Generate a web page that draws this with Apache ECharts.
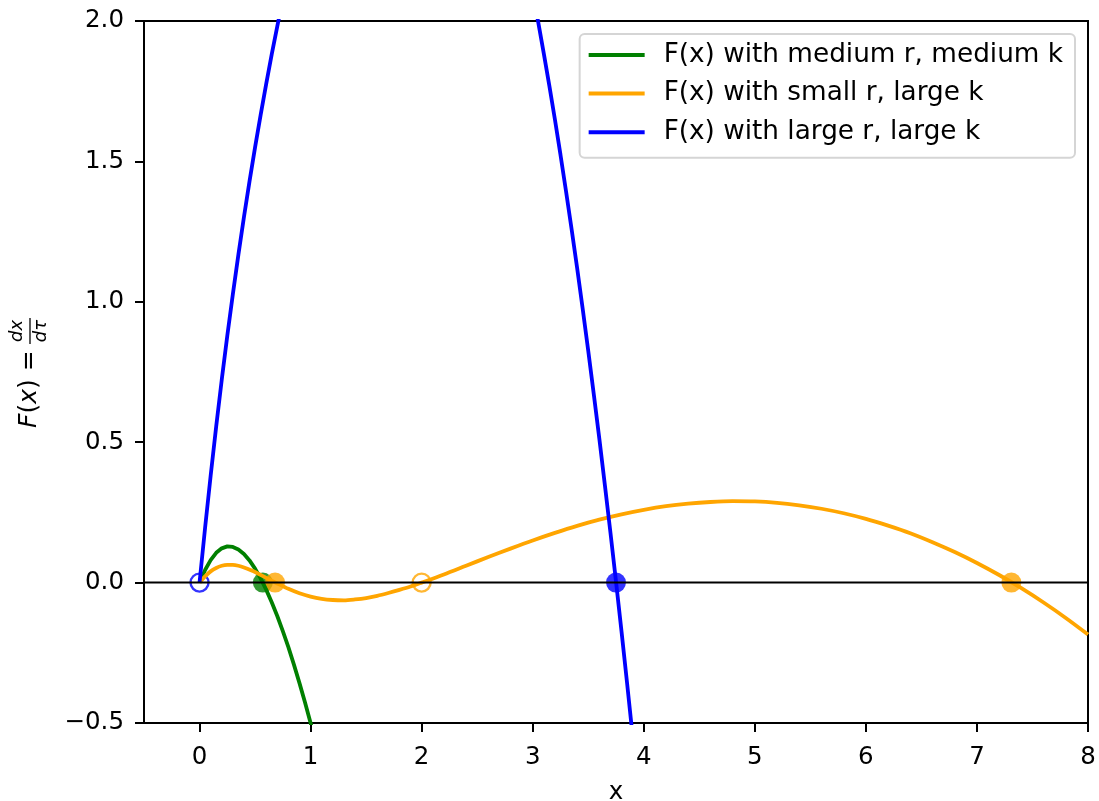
<!DOCTYPE html>
<html>
<head>
<meta charset="utf-8">
<script src="https://cdn.jsdelivr.net/npm/echarts@6/dist/echarts.min.js"></script>
<style>
  html, body { margin: 0; padding: 0; background: #fff; }
  #chart { width: 1099px; height: 801px; }
</style>
</head>
<body>
<div id="chart"></div>
<script>
// F(x) for the three parameter sets
const greenX = [0, 0.05, 0.1, 0.15, 0.2, 0.25, 0.3, 0.35, 0.4, 0.45, 0.5, 0.55, 0.6, 0.65, 0.7, 0.75, 0.8, 0.85, 0.9, 0.95, 1.0, 1.05];
const greenY = [0, 0.045, 0.080, 0.106, 0.122, 0.129, 0.127, 0.118, 0.102, 0.079, 0.050, 0.015, -0.025, -0.070, -0.119, -0.173, -0.230, -0.292, -0.358, -0.427, -0.500, -0.577];

const orangeX = [0, 0.05, 0.1, 0.15, 0.2, 0.25, 0.3, 0.35, 0.4, 0.5, 0.6, 0.7, 0.8, 0.9, 1.0, 1.1, 1.2, 1.3, 1.4, 1.5, 1.6, 1.7, 1.8, 1.9, 2.0,
  2.2, 2.4, 2.6, 2.8, 3.0, 3.2, 3.4, 3.6, 3.8, 4.0, 4.2, 4.4, 4.6, 4.8, 5.0, 5.2, 5.4, 5.6, 5.8, 6.0, 6.2, 6.4, 6.6, 6.8, 7.0, 7.2, 7.4, 7.6, 7.8, 8.0];
const orangeY = [0, 0.022, 0.040, 0.052, 0.060, 0.063, 0.063, 0.060, 0.054, 0.038, 0.017, -0.003, -0.022, -0.038, -0.050, -0.058, -0.062, -0.063, -0.060, -0.055, -0.047, -0.037, -0.026, -0.014, 0,
  0.029, 0.060, 0.091, 0.121, 0.150, 0.177, 0.202, 0.224, 0.243, 0.259, 0.272, 0.281, 0.287, 0.290, 0.289, 0.284, 0.275, 0.263, 0.247, 0.227, 0.203, 0.176, 0.144, 0.109, 0.070, 0.027, -0.020, -0.071, -0.126, -0.185];

const blueX = [0, 0.05, 0.1, 0.15, 0.2, 0.25, 0.3, 0.35, 0.4, 0.45, 0.5, 0.55, 0.6, 0.65, 0.7, 0.75, 0.8, 1.0, 1.5, 2.0, 2.5,
  3.0, 3.05, 3.1, 3.15, 3.2, 3.25, 3.3, 3.35, 3.4, 3.45, 3.5, 3.55, 3.6, 3.65, 3.7, 3.75, 3.8, 3.85, 3.9, 3.95, 4.0];
const blueY = [0, 0.195, 0.380, 0.556, 0.722, 0.879, 1.027, 1.168, 1.302, 1.429, 1.550, 1.665, 1.775, 1.881, 1.981, 2.078, 2.170, 2.500, 3.058, 3.200, 2.888,
  2.100, 1.995, 1.884, 1.769, 1.649, 1.524, 1.394, 1.259, 1.120, 0.975, 0.826, 0.671, 0.512, 0.347, 0.178, 0.004, -0.175, -0.359, -0.548, -0.742, -0.941];

// equilibria (F = 0): filled = stable, open = unstable
const greenStable = [0.57];
const orangeStable = [0.68, 7.31];
const orangeUnstable = [2.0];
const blueStable = [3.75];
const blueUnstable = [0];

const zeroLineX = [-0.5, 8];
const xTicks = [0, 1, 2, 3, 4, 5, 6, 7, 8];
const yTicks = [-0.5, 0, 0.5, 1, 1.5, 2];

const names = ['F(x) with medium r, medium k', 'F(x) with small r, large k', 'F(x) with large r, large k'];

const FONT = 'DejaVu Sans';
const chart = echarts.init(document.getElementById('chart'));

function pairs(xs, ys) {
  return xs.map((x, i) => [x, ys[i]]);
}

function curve(name, color, xs, ys, smooth) {
  return {
    name: name,
    type: 'line',
    data: pairs(xs, ys),
    symbol: 'none',
    smooth: smooth,
    clip: true,
    lineStyle: { color: color, width: 3.8 },
    itemStyle: { color: color },
    silent: true
  };
}

function dots(color, xs, filled) {
  return {
    type: 'scatter',
    data: xs.map(x => [x, 0]),
    symbol: 'circle',
    symbolSize: filled ? 20 : 18,
    itemStyle: filled
      ? { color: color }
      : { color: 'rgba(0,0,0,0)', borderColor: color, borderWidth: 2.4 },
    silent: true
  };
}

const axisText = { fontFamily: FONT, fontSize: 24.5, color: '#000' };

const option = {
  animation: false,
  backgroundColor: '#fff',
  textStyle: { fontFamily: FONT },
  grid: {
    left: 144, right: 11, top: 21, bottom: 78,
    show: true, borderColor: '#000', borderWidth: 2,
    containLabel: false, outerBoundsMode: 'none'
  },
  legend: {
    data: names.map(n => ({ name: n, icon: 'rect' })),
    orient: 'vertical',
    right: 24,
    top: 34,
    padding: [7.5, 12, 12, 9],
    itemWidth: 56,
    itemHeight: 4,
    itemGap: 11.6,
    backgroundColor: '#fff',
    borderColor: '#d5d5d5',
    borderWidth: 2,
    borderRadius: 5,
    textStyle: { fontFamily: FONT, fontSize: 26.3, color: '#000', lineHeight: 27, padding: [0, 0, 0, 14] }
  },
  xAxis: {
    type: 'value',
    min: -0.5,
    max: 8,
    name: 'x',
    nameLocation: 'middle',
    nameGap: 57,
    nameTextStyle: axisText,
    axisLine: { onZero: false, lineStyle: { color: '#000', width: 2 } },
    axisTick: { show: true, length: 9, customValues: xTicks, lineStyle: { color: '#000', width: 2 } },
    axisLabel: Object.assign({ customValues: xTicks, margin: 22 }, axisText),
    splitLine: { show: false }
  },
  yAxis: {
    type: 'value',
    min: yTicks[0],
    max: yTicks[yTicks.length - 1],
    interval: 0.5,
    axisLine: { onZero: false, lineStyle: { color: '#000', width: 2 } },
    axisTick: { show: true, length: 9, lineStyle: { color: '#000', width: 2 } },
    axisLabel: Object.assign({
      margin: 20,
      formatter: v => (v < 0 ? '\u2212' + (-v).toFixed(1) : v.toFixed(1))
    }, axisText),
    splitLine: { show: false }
  },
  // y label: F(x) = dx/dτ, drawn as a rotated group so the fraction can stack
  graphic: [{
    type: 'group',
    x: 29,
    y: 373,
    rotation: Math.PI / 2,
    silent: true,
    children: [
      {
        type: 'text', x: -55, y: 0,
        style: {
          text: '{i|F}({i|x}) =', fontFamily: FONT, fontSize: 25, fill: '#000',
          align: 'left', verticalAlign: 'middle',
          rich: { i: { fontStyle: 'italic', fontFamily: FONT, fontSize: 25 } }
        }
      },
      {
        type: 'text', x: 42, y: -11.5,
        style: { text: 'dx', fontFamily: FONT, fontSize: 18, fontStyle: 'italic', fill: '#000', align: 'center', verticalAlign: 'middle' }
      },
      {
        type: 'line',
        shape: { x1: 29, y1: 1, x2: 55, y2: 1 },
        style: { stroke: '#000', lineWidth: 1.3 }
      },
      {
        type: 'text', x: 42, y: 12.5,
        style: { text: 'd\u03c4', fontFamily: FONT, fontSize: 18, fontStyle: 'italic', fill: '#000', align: 'center', verticalAlign: 'middle' }
      }
    ]
  }],
  series: [
    curve(names[0], '#008000', greenX, greenY, false),
    dots('#008000', greenStable, true),
    curve(names[1], '#ffa500', orangeX, orangeY, 0.3),
    dots('#ffa500', orangeStable, true),
    dots('#ffa500', orangeUnstable, false),
    curve(names[2], '#0000ff', blueX, blueY, false),
    dots('#0000ff', blueStable, true),
    dots('#0000ff', blueUnstable, false),
    {
      type: 'line',
      data: zeroLineX.map(x => [x, 0]),
      symbol: 'none',
      lineStyle: { color: '#000', width: 2 },
      silent: true
    }
  ]
};

chart.setOption(option);
</script>
</body>
</html>
